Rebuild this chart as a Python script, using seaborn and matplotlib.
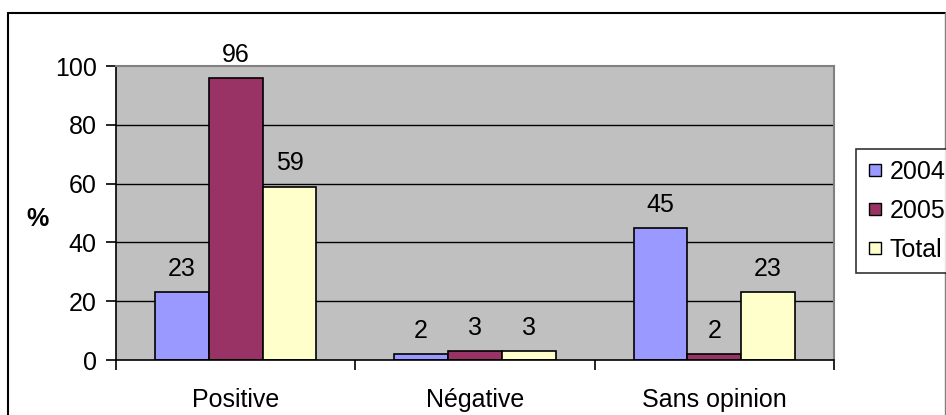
import pandas as pd
import matplotlib
matplotlib.use("Agg")
import matplotlib.pyplot as plt
import seaborn as sns
from matplotlib.lines import Line2D

categories = ["Positive", "Négative", "Sans opinion"]
series = ["2004", "2005", "Total"]
values_2004 = [23, 2, 45]
values_2005 = [96, 3, 2]
values_total = [59, 3, 23]
colors = ["#9999FF", "#993366", "#FFFFCC"]
y_ticks = [0, 20, 40, 60, 80, 100]

rows = []
for name, vals in zip(series, [values_2004, values_2005, values_total]):
    for cat, v in zip(categories, vals):
        rows.append({"categorie": cat, "serie": name, "valeur": v})
df = pd.DataFrame(rows)

sns.set_theme(style="white")
plt.rcParams['font.family'] = ['Liberation Sans', 'DejaVu Sans']
# texte en noir comme dans Excel
plt.rcParams['text.color'] = 'black'
plt.rcParams['axes.labelcolor'] = 'black'
plt.rcParams['xtick.color'] = 'black'
plt.rcParams['ytick.color'] = 'black'

FS = 18

fig = plt.figure(figsize=(9.46, 4.15), dpi=100)
ax = fig.add_axes([116 / 946, 1 - 360 / 415, (834 - 116) / 946, (360 - 66) / 415])
ax.set_facecolor("#C0C0C0")

sns.barplot(data=df, x="categorie", y="valeur", hue="serie", palette=colors,
            width=0.675, gap=0, edgecolor="black", linewidth=1.2, saturation=1,
            ax=ax, legend=False)

for cont in ax.containers:
    ax.bar_label(cont, padding=8, fontsize=FS, color="black")

ax.set_ylim(0, 100)
ax.set_xlim(-0.5, 2.5)
ax.set_yticks(y_ticks)
ax.set_yticklabels([str(t) for t in y_ticks], fontsize=FS)
for t in y_ticks[1:-1]:
    ax.axhline(t, color="black", linewidth=1, zorder=0.5)

# ticks at group boundaries, labels at group centers
ax.set_xticks([-0.5, 0.5, 1.5, 2.5])
ax.set_xticklabels([])
ax.set_xticks([0, 1, 2], minor=True)
ax.set_xticklabels(categories, minor=True, fontsize=FS)
ax.tick_params(axis="x", which="major", direction="out", length=7, width=1.2, color="black", bottom=True)
ax.tick_params(axis="x", which="minor", length=0, pad=20, labelcolor="black")
ax.tick_params(axis="y", direction="out", length=7, width=1.2, color="black", left=True, pad=7, labelcolor="black")

ax.set_xlabel("")
ax.set_ylabel("%", rotation=0, fontsize=FS, fontweight="bold", va="center", ha="center", color="black")
ax.yaxis.set_label_coords(-0.109, 0.48)

for side in ["left", "bottom"]:
    ax.spines[side].set_color("black")
    ax.spines[side].set_linewidth(1.2)
for side in ["top", "right"]:
    ax.spines[side].set_color("#808080")
    ax.spines[side].set_linewidth(1.5)

handles = [Line2D([0], [0], marker="s", linestyle="", markersize=8.5,
                  markerfacecolor=c, markeredgecolor="black", markeredgewidth=1)
           for c in colors]
leg = fig.legend(handles, series, loc="upper left", bbox_to_anchor=(856 / 946, 1 - 149 / 415),
                 fontsize=FS, frameon=True, fancybox=False, edgecolor="black",
                 handletextpad=0.3, labelspacing=0.6, borderpad=0.45, handlelength=0.6,
                 borderaxespad=0, labelcolor="black")
leg.get_frame().set_linewidth(1.2)

# outer chart frame
fig.add_artist(Line2D([8 / 946, 8 / 946], [0, 1 - 13 / 415], transform=fig.transFigure, color="black", linewidth=1.5))
fig.add_artist(Line2D([8 / 946, 945 / 946], [1 - 13 / 415, 1 - 13 / 415], transform=fig.transFigure, color="black", linewidth=1.5))
fig.add_artist(Line2D([945 / 946, 945 / 946], [0, 1 - 13 / 415], transform=fig.transFigure, color="#808080", linewidth=1))

fig.savefig("out.png", dpi=100, facecolor="white")
